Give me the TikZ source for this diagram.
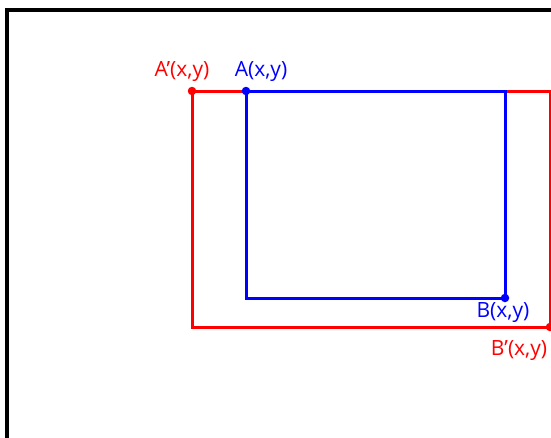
\documentclass[tikz,border=0pt]{standalone}
\usepackage{fontspec}
\setmainfont{Open Sans}
\definecolor{myred}{RGB}{255,0,0}
\definecolor{myblue}{RGB}{0,0,255}
\begin{document}
\begin{tikzpicture}[x=1pt,y=-1pt,
  redline/.style={draw=myred,line width=3pt},
  blueline/.style={draw=myblue,line width=3pt},
  reddot/.style={circle,fill=myred,inner sep=0pt,minimum size=8.5pt},
  bluedot/.style={circle,fill=myblue,inner sep=0pt,minimum size=8.5pt},
  lbl/.style={inner sep=0pt,font=\fontsize{21}{23}\selectfont}]
\useasboundingbox (0,0) rectangle (551,437);
\clip (0,0) rectangle (551,437);
\draw[line width=3.2pt] (7,445) -- (7,10) -- (560,10);
\coordinate (Ap) at (192,91);
\coordinate (Bp) at (550,327);
\coordinate (A) at (246,91);
\coordinate (B) at (505,298);
\draw[redline] (Ap) rectangle (Bp);
\draw[blueline] (A) rectangle (B);
\node[reddot] (dAp) at (Ap) {};
\node[reddot] (dBp) at (Bp) {};
\node[bluedot] (dA) at (A) {};
\node[bluedot] (dB) at (B) {};
\node[lbl,text=myred] (lAp) at (182,71) {A’(x,y)};
\node[lbl,text=myblue] (lA) at (261,71) {A(x,y)};
\node[lbl,text=myblue] (lB) at (503,313) {B(x,y)};
\node[lbl,text=myred] (lBp) at (519,351) {B’(x,y)};
\end{tikzpicture}
\end{document}
